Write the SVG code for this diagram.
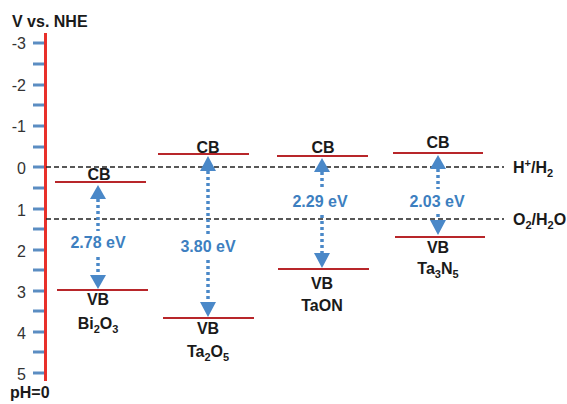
<svg xmlns="http://www.w3.org/2000/svg" width="567" height="404" viewBox="0 0 567 404">
  <defs>
    <style>
      text { font-family: "Liberation Sans", Arial, sans-serif; fill: #1a1a1a; }
      .title { font-size: 16px; font-weight: bold; }
      .num { font-size: 16px; text-anchor: end; fill: #333; }
      .lbl { font-size: 16px; font-weight: bold; text-anchor: middle; }
      .ref { font-size: 16px; font-weight: bold; }
      .gap { font-size: 16px; font-weight: bold; text-anchor: middle; fill: #3d7fc0; }
      .sub { font-size: 11px; }
      .tick { stroke: #5b8dc2; stroke-width: 3; }
      .band { stroke: #b8262a; stroke-width: 2; }
      .ref-line { stroke: #222; stroke-width: 1.5; stroke-dasharray: 5 3; fill: none; }
      .shaft { stroke: #4a88c8; stroke-width: 3.5; stroke-dasharray: 3 3; fill: none; }
      .head { fill: #4a88c8; }
    </style>
  </defs>

  <!-- potential axis -->
  <g id="axis">
    <text class="title" x="12" y="27">V vs. NHE</text>
    <g>
      <line class="tick" x1="33" y1="43" x2="45" y2="43"/>
      <line class="tick" x1="33" y1="64" x2="45" y2="64"/>
      <line class="tick" x1="33" y1="85" x2="45" y2="85"/>
      <line class="tick" x1="33" y1="105" x2="45" y2="105"/>
      <line class="tick" x1="33" y1="126" x2="45" y2="126"/>
      <line class="tick" x1="33" y1="147" x2="45" y2="147"/>
      <line class="tick" x1="33" y1="167" x2="45" y2="167"/>
      <line class="tick" x1="33" y1="188" x2="45" y2="188"/>
      <line class="tick" x1="33" y1="209" x2="45" y2="209"/>
      <line class="tick" x1="33" y1="229" x2="45" y2="229"/>
      <line class="tick" x1="33" y1="250" x2="45" y2="250"/>
      <line class="tick" x1="33" y1="270" x2="45" y2="270"/>
      <line class="tick" x1="33" y1="291" x2="45" y2="291"/>
      <line class="tick" x1="33" y1="311" x2="45" y2="311"/>
      <line class="tick" x1="33" y1="332" x2="45" y2="332"/>
      <line class="tick" x1="33" y1="352" x2="45" y2="352"/>
      <line class="tick" x1="33" y1="373" x2="45" y2="373"/>
    </g>
    <line x1="45.5" y1="33" x2="45.5" y2="381" stroke="#e8302a" stroke-width="3"/>
    <text class="num" x="26" y="49">-3</text>
    <text class="num" x="26" y="91">-2</text>
    <text class="num" x="26" y="132">-1</text>
    <text class="num" x="26" y="174">0</text>
    <text class="num" x="26" y="216">1</text>
    <text class="num" x="26" y="257">2</text>
    <text class="num" x="26" y="298">3</text>
    <text class="num" x="26" y="339">4</text>
    <text class="num" x="26" y="380">5</text>
    <text class="title" x="10" y="398">pH=0</text>
  </g>

  <!-- water redox levels -->
  <g id="redox-levels">
    <line class="ref-line" x1="46" y1="167" x2="504" y2="167"/>
    <line class="ref-line" x1="46" y1="219" x2="504" y2="219"/>
    <text class="ref" x="513" y="173">H<tspan class="sub" dy="-6">+</tspan><tspan dy="6">/H</tspan><tspan class="sub" dy="4">2</tspan></text>
    <text class="ref" x="513" y="225">O<tspan class="sub" dy="4">2</tspan><tspan dy="-4">/H</tspan><tspan class="sub" dy="4">2</tspan><tspan dy="-4">O</tspan></text>
  </g>

  <!-- band edges -->
  <g id="Bi2O3">
    <line class="band" x1="55" y1="182" x2="146" y2="182"/>
    <line class="band" x1="57" y1="290" x2="148" y2="290"/>
    <text class="lbl" x="99" y="180">CB</text>
    <text class="lbl" x="98" y="305">VB</text>
    <text class="lbl" x="98" y="329">Bi<tspan class="sub" dy="4">2</tspan><tspan dy="-4">O</tspan><tspan class="sub" dy="4">3</tspan></text>
  </g>

  <g id="Ta2O5">
    <line class="band" x1="158" y1="154" x2="249" y2="154"/>
    <line class="band" x1="163" y1="318" x2="254" y2="318"/>
    <text class="lbl" x="208" y="153">CB</text>
    <text class="lbl" x="208" y="334">VB</text>
    <text class="lbl" x="208" y="357">Ta<tspan class="sub" dy="4">2</tspan><tspan dy="-4">O</tspan><tspan class="sub" dy="4">5</tspan></text>
  </g>

  <g id="TaON">
    <line class="band" x1="277" y1="156" x2="368" y2="156"/>
    <line class="band" x1="278" y1="269" x2="369" y2="269"/>
    <text class="lbl" x="323" y="153">CB</text>
    <text class="lbl" x="322" y="289">VB</text>
    <text class="lbl" x="322" y="311">TaON</text>
  </g>

  <g id="Ta3N5">
    <line class="band" x1="393" y1="153" x2="483" y2="153"/>
    <line class="band" x1="395" y1="237" x2="485" y2="237"/>
    <text class="lbl" x="438" y="148">CB</text>
    <text class="lbl" x="438" y="253">VB</text>
    <text class="lbl" x="438" y="274">Ta<tspan class="sub" dy="4">3</tspan><tspan dy="-4">N</tspan><tspan class="sub" dy="4">5</tspan></text>
  </g>

  <!-- band gap arrows -->
  <g id="connectors">
    <line class="shaft" x1="98" y1="199" x2="98" y2="231"/>
    <line class="shaft" x1="98" y1="257" x2="98" y2="276"/>
    <polygon class="head" points="98,185 90,199 106,199"/>
    <polygon class="head" points="98,289 90,275 106,275"/>
    <text class="gap" x="98" y="248">2.78 eV</text>

    <line class="shaft" x1="208" y1="171" x2="208" y2="234"/>
    <line class="shaft" x1="208" y1="260" x2="208" y2="302"/>
    <polygon class="head" points="208,156 200,171 216,171"/>
    <polygon class="head" points="208,317 200,302 216,302"/>
    <text class="gap" x="208" y="252">3.80 eV</text>

    <line class="shaft" x1="322" y1="172" x2="322" y2="189"/>
    <line class="shaft" x1="322" y1="215" x2="322" y2="253"/>
    <polygon class="head" points="322,158 314,172 330,172"/>
    <polygon class="head" points="322,268 314,253 330,253"/>
    <text class="gap" x="320" y="207">2.29 eV</text>

    <line class="shaft" x1="438" y1="169" x2="438" y2="189"/>
    <line class="shaft" x1="438" y1="214" x2="438" y2="220"/>
    <polygon class="head" points="438,155 430,169 446,169"/>
    <polygon class="head" points="438,235 430,220 446,220"/>
    <text class="gap" x="437" y="207">2.03 eV</text>
  </g>
</svg>
